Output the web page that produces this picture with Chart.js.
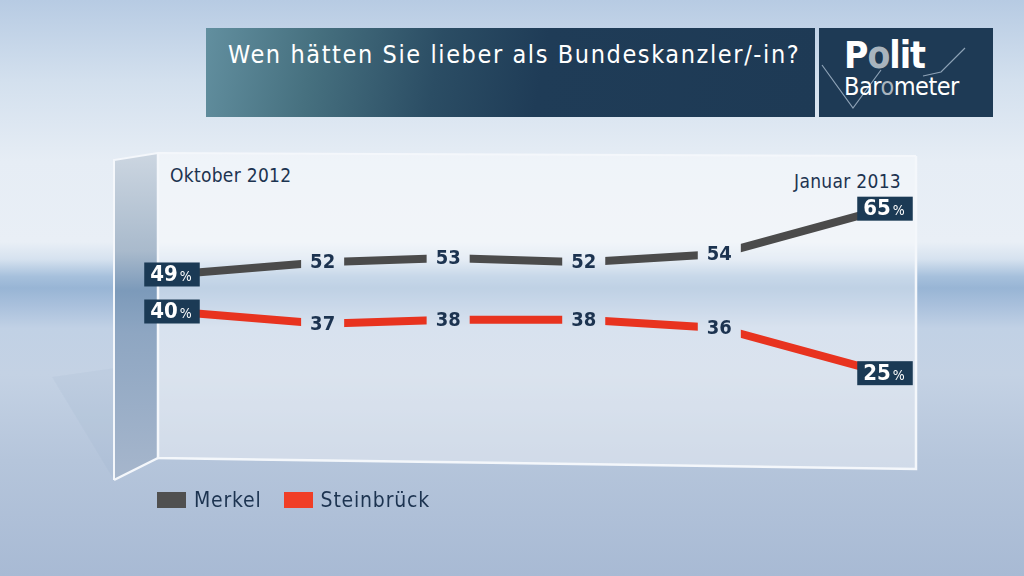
<!DOCTYPE html>
<html lang="de">
<head>
<meta charset="utf-8">
<title>Politbarometer – Bundeskanzler/-in</title>
<script src="https://cdn.jsdelivr.net/npm/chart.js@4.4.1/dist/chart.umd.min.js"></script>
<style>
  html, body { margin: 0; padding: 0; }
  body {
    width: 1024px; height: 576px; overflow: hidden; position: relative;
    font-family: "DejaVu Sans Condensed", "Liberation Sans Narrow", "DejaVu Sans", sans-serif;
    font-stretch: condensed;
    background: linear-gradient(to bottom,
      #b7cbe3 0%, #d3e0ee 14%, #e6edf5 28%, #e9eff6 42%, #d6e2ef 45%,
      #a6c0dc 48%, #98b5d5 50%, #a9c0dc 53%, #c1d1e5 57%, #c4d2e4 65%,
      #b5c5db 80%, #a8bad4 100%);
  }
  #titel {
    position: absolute; left: 206px; top: 28px; width: 609px; height: 89px;
    background: linear-gradient(100deg, #628f9f 0%, #46707f 18%, #2b4d64 38%, #1f3c57 55%, #1e3a55 100%);
  }
  #titel span {
    position: absolute; left: 22px; top: 12px; color: #fff; font-size: 25px; letter-spacing: 1.6px; white-space: nowrap;
  }
  #logo {
    position: absolute; left: 819px; top: 28px; width: 174px; height: 89px; background: #1e3a55; overflow: hidden;
  }
  #logo svg { position: absolute; left: 0; top: 0; }
  #logo .p1 { position: absolute; left: 25px; top: 6px; font-size: 37px; font-weight: bold; color: #fff; letter-spacing: -1px; }
  #logo .p2 { position: absolute; left: 25px; top: 44px; font-size: 25px; color: #fff; letter-spacing: -0.5px; }
  #logo .g { color: #a9b4be; }
  #panel, #chart { position: absolute; left: 0; top: 0; }
  .zeit { position: absolute; color: #1c3350; font-size: 19px; letter-spacing: 0.3px; white-space: nowrap; }
  #legende { position: absolute; left: 157px; top: 488px; display: flex; gap: 22px; }
  #legende div { display: flex; align-items: center; color: #1c3350; font-size: 21px; letter-spacing: 0.8px; }
  #legende i { display: inline-block; width: 29px; height: 16px; margin-right: 8px; }
</style>
</head>
<body>
<div id="titel"><span>Wen hätten Sie lieber als Bundeskanzler/-in?</span></div>
<div id="logo">
  <svg width="174" height="89">
    <polyline points="3,37 34,80 62,42" fill="none" stroke="#8ea2b6" stroke-width="1.2"/>
    <polyline points="104,48 122,44 146,20" fill="none" stroke="#8ea2b6" stroke-width="1.2"/>
  </svg>
  <div class="p1">P<span class="g">o</span>lit</div>
  <div class="p2">Bar<span class="g">o</span>meter</div>
</div>

<svg id="panel" width="1024" height="576">
  <defs>
    <linearGradient id="seite" x1="0" y1="0" x2="0" y2="1">
      <stop offset="0" stop-color="#ccd6e1"/>
      <stop offset="0.3" stop-color="#a9bacc"/>
      <stop offset="0.42" stop-color="#7c9aba"/>
      <stop offset="0.55" stop-color="#8ea6c2"/>
      <stop offset="1" stop-color="#a6b6cc"/>
    </linearGradient>
  </defs>
  <polygon points="52,377 158,362 158,458 114,480" fill="rgba(110,135,170,0.06)"/>
  <polygon points="158,153 916,156 916,469 158,458" fill="rgba(255,255,255,0.38)"/>
  <polygon points="114,160 158,153 158,458 114,480" fill="url(#seite)"/>
  <polyline points="114,480 114,160 158,153 916,156" fill="none" stroke="#f4f7fb" stroke-width="2"/>
  <polyline points="158,153 158,458 916,469 916,156" fill="none" stroke="#f4f7fb" stroke-width="2.5"/>
  <line x1="114" y1="480" x2="158" y2="458" stroke="#f4f7fb" stroke-width="2.5"/>
</svg>

<div class="zeit" style="left:170px; top:164px;">Oktober 2012</div>
<div class="zeit" style="right:123px; top:170px;">Januar 2013</div>

<canvas id="chart" width="1024" height="576"></canvas>
<div id="legende"></div>

<script>
// Politbarometer: Umfragen Oktober 2012 bis Januar 2013 (x = Wochen seit erster Umfrage, geschaetzt)
const wochen = [0, 3.0, 5.5, 8.2, 10.9, 14.2];
const merkel = [49, 52, 53, 52, 54, 65];
const steinbrueck = [40, 37, 38, 38, 36, 25];
const namen = ['Merkel', 'Steinbrück'];
const farben = ['#4b4b4b', '#e8331f'];
const legendeFarben = ['#505050', '#f03e26'];

const navy = '#1c3350';
const schrift = '"DejaVu Sans Condensed", "Liberation Sans Narrow", "DejaVu Sans", sans-serif';

// Wertebeschriftung: erster und letzter Wert in Kasten, dazwischen Zahl in einer Luecke der Linie
const wertLabels = {
  id: 'wertLabels',
  afterDatasetsDraw(chart) {
    const ctx = chart.ctx;
    chart.data.datasets.forEach((ds, di) => {
      const meta = chart.getDatasetMeta(di);
      const last = meta.data.length - 1;
      meta.data.forEach((pt, i) => {
        const txt = String(ds.data[i].y);
        ctx.save();
        ctx.textBaseline = 'middle';
        if (i === 0 || i === last) {
          ctx.font = 'bold 22px ' + schrift;
          const wz = ctx.measureText(txt).width;
          ctx.font = '14px ' + schrift;
          const wp = ctx.measureText('%').width;
          const w = wz + wp + 16, h = 24;
          ctx.fillStyle = '#1b3a55';
          ctx.fillRect(pt.x - w / 2, pt.y - h / 2, w, h);
          ctx.fillStyle = '#ffffff';
          ctx.textAlign = 'left';
          ctx.font = 'bold 22px ' + schrift;
          ctx.fillText(txt, pt.x - w / 2 + 6, pt.y + 1);
          ctx.font = '14px ' + schrift;
          ctx.fillText('%', pt.x - w / 2 + 8 + wz, pt.y + 3);
        } else {
          ctx.font = 'bold 20px ' + schrift;
          const w = ctx.measureText(txt).width;
          ctx.globalCompositeOperation = 'destination-out';
          ctx.fillRect(pt.x - w / 2 - 9, pt.y - 14, w + 18, 28);
          ctx.globalCompositeOperation = 'source-over';
          ctx.fillStyle = navy;
          ctx.textAlign = 'center';
          ctx.fillText(txt, pt.x, pt.y + 1);
        }
        ctx.restore();
      });
    });
  }
};

const punkte = werte => werte.map((v, i) => ({ x: wochen[i], y: v }));

const ctx = document.getElementById('chart').getContext('2d');
const umfrage = new Chart(ctx, {
  type: 'line',
  data: {
    datasets: [
      { label: namen[0], data: punkte(merkel), borderColor: farben[0], borderWidth: 8, pointRadius: 0, tension: 0, borderCapStyle: 'butt' },
      { label: namen[1], data: punkte(steinbrueck), borderColor: farben[1], borderWidth: 8, pointRadius: 0, tension: 0, borderCapStyle: 'butt' }
    ]
  },
  options: {
    responsive: false,
    animation: false,
    layout: { padding: { left: 172, right: 139, top: 147, bottom: 100 } },
    scales: {
      x: { type: 'linear', min: 0, max: 14.2, display: false },
      y: { min: 0, max: 80, display: false }
    },
    plugins: { legend: { display: false }, tooltip: { enabled: false } }
  },
  plugins: [wertLabels]
});

// Legende aus den Datensaetzen
const legende = document.getElementById('legende');
umfrage.data.datasets.forEach((ds, i) => {
  const el = document.createElement('div');
  el.innerHTML = '<i style="background:' + legendeFarben[i] + '"></i>' + ds.label;
  legende.appendChild(el);
});
</script>
</body>
</html>
